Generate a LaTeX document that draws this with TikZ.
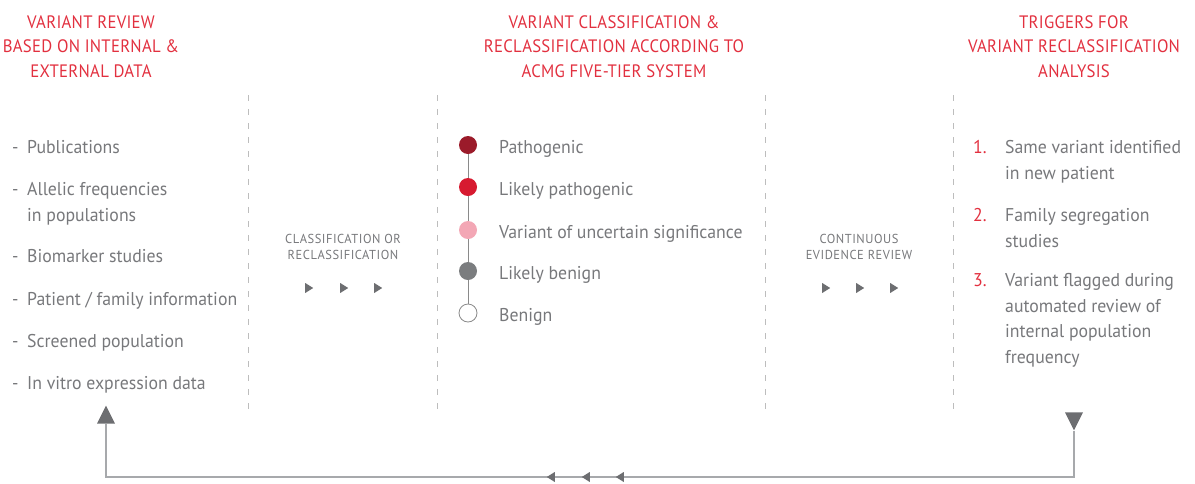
\documentclass[tikz,border=0pt]{standalone}
\usepackage{fontspec}
\setmainfont{PT Sans}[FakeStretch=0.96]
\newfontfamily\capsfont{PT Sans}[FakeStretch=0.96, LetterSpace=4]
\newfontfamily\headfont{PT Sans}[FakeStretch=0.93, LetterSpace=1.5]
\usetikzlibrary{shapes.geometric}
\definecolor{headred}{HTML}{E2303F}
\definecolor{txtgray}{HTML}{77787B}
\definecolor{divgray}{HTML}{BDBDBD}
\definecolor{linegray}{HTML}{A7A9AC}
\definecolor{markgray}{HTML}{6D6E71}
\definecolor{cpath}{HTML}{9B1B2A}
\definecolor{clpath}{HTML}{D71A30}
\definecolor{cvus}{HTML}{F3A7B5}
\definecolor{clben}{HTML}{7B7D7F}
\definecolor{cben}{HTML}{8A8A8A}
\begin{document}
\begin{tikzpicture}[x=1pt,y=-1pt,
  heading/.style={text=headred, font=\headfont\fontsize{18}{24.5}\selectfont, align=center, inner sep=0, anchor=base},
  item/.style={text=txtgray, font=\fontsize{18.5}{25.5}\selectfont, align=left, inner sep=0, anchor=base west},
  steplabel/.style={text=txtgray, font=\capsfont\fontsize{13}{16}\selectfont, align=center, inner sep=0, anchor=base},
  divider/.style={draw=divgray, line width=1pt, dash pattern=on 6pt off 8pt},
  tier/.style={circle, minimum size=18pt, inner sep=0},
  flowmark/.style={isosceles triangle, isosceles triangle stretches, fill=markgray, inner sep=0, minimum width=10pt, minimum height=8pt},
  endmark/.style={isosceles triangle, isosceles triangle stretches, fill=markgray, inner sep=0, minimum width=18pt, minimum height=18pt},
  loop/.style={draw=linegray, line width=1.4pt}]
\useasboundingbox (0,0) rectangle (1195,483);

% column dividers
\foreach \x/\n in {248/d1, 437/d2, 765/d3, 953/d4}{
  \coordinate (\n-top) at (\x,95);
  \coordinate (\n-bot) at (\x,412);
  \draw[divider] (\n-top) -- (\n-bot);
}

% headings (anchored at the baseline of their last line)
\node[heading] (h1) at (91,77) {VARIANT REVIEW\\BASED ON INTERNAL \&\\EXTERNAL DATA};
\node[heading] (h2) at (614,77) {VARIANT CLASSIFICATION \&\\RECLASSIFICATION ACCORDING TO\\ACMG FIVE-TIER SYSTEM};
\node[heading] (h3) at (1074,77) {TRIGGERS FOR\\VARIANT RECLASSIFICATION\\ANALYSIS};

% data sources
\node[item] (s1) at (12,153) {\makebox[15pt][l]{-}Publications};
\node[item] (s2) at (12,221) {\makebox[15pt][l]{-}Allelic frequencies\\\hspace*{15pt}in populations};
\node[item] (s3) at (12,262) {\makebox[15pt][l]{-}Biomarker studies};
\node[item] (s4) at (12,305) {\makebox[15pt][l]{-}Patient / family information};
\node[item] (s5) at (12,347) {\makebox[15pt][l]{-}Screened population};
\node[item] (s6) at (12,389) {\makebox[15pt][l]{-}In vitro expression data};

% classification step
\node[steplabel] (l1) at (343,259) {CLASSIFICATION OR\\RECLASSIFICATION};
\node[flowmark] (a1) at (308,288) {};
\node[flowmark] (a2) at (343,288) {};
\node[flowmark] (a3) at (377,288) {};

% five-tier scale
\node[tier, fill=cpath] (t1) at (468,145) {};
\node[tier, fill=clpath] (t2) at (468,187) {};
\node[tier, fill=cvus] (t3) at (468,230) {};
\node[tier, fill=clben] (t4) at (468,271) {};
\node[tier, draw=cben, line width=0.8pt, fill=white] (t5) at (468,313) {};
\draw[draw=cben, line width=0.8pt] (t1) -- (t2) (t2) -- (t3) (t3) -- (t4) (t4) -- (t5);
\node[item] (c1) at (499,153) {Pathogenic};
\node[item] (c2) at (499,195) {Likely pathogenic};
\node[item] (c3) at (499,238) {Variant of uncertain significance};
\node[item] (c4) at (499,279) {Likely benign};
\node[item] (c5) at (499,321) {Benign};

% review step
\node[steplabel] (l2) at (859,259) {CONTINUOUS\\EVIDENCE REVIEW};
\node[flowmark] (b1) at (825,288) {};
\node[flowmark] (b2) at (859,288) {};
\node[flowmark] (b3) at (893,288) {};

% triggers
\node[item] (r1) at (973,179) {\makebox[32pt][l]{\color{headred}1.}Same variant identified\\\hspace*{32pt}in new patient};
\node[item] (r2) at (973,247) {\makebox[32pt][l]{\color{headred}2.}Family segregation\\\hspace*{32pt}studies};
\node[item] (r3) at (973,363) {\makebox[32pt][l]{\color{headred}3.}Variant flagged during\\\hspace*{32pt}automated review of\\\hspace*{32pt}internal population\\\hspace*{32pt}frequency};

% feedback loop
\node[endmark, shape border rotate=90] (up) at (106,418) {};
\node[endmark, shape border rotate=-90] (down) at (1074,418) {};
\coordinate (corner-r) at (1074,477);
\coordinate (corner-l) at (106,477);
\draw[loop] (down.apex) -- (corner-r) -- (corner-l) -- (up.south);
\node[flowmark, shape border rotate=180] (m1) at (552,477) {};
\node[flowmark, shape border rotate=180] (m2) at (587,477) {};
\node[flowmark, shape border rotate=180] (m3) at (621,477) {};
\end{tikzpicture}
\end{document}
